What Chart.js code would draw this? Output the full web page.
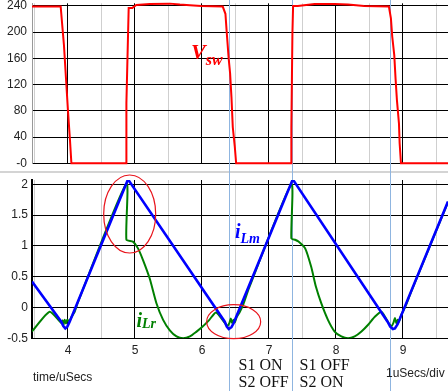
<!DOCTYPE html>
<html>
<head>
<meta charset="utf-8">
<script src="https://cdn.jsdelivr.net/npm/chart.js@4.4.1/dist/chart.umd.min.js"></script>
<style>
  html, body { margin: 0; padding: 0; background: #fff; }
  #wrap { position: relative; width: 448px; height: 391px; overflow: hidden; }
  #wrap canvas { position: absolute; left: 0; }
  #vswChart { top: 0; }
  #ilChart { top: 172px; }
  #sep { position: absolute; left: 0; top: 171px; width: 448px; height: 1.5px; background: #d4d4d4; }
  #labels { position: absolute; left: 0; top: 0; pointer-events: none; }
  .lbl { font-family: "Liberation Serif", "Times New Roman", serif; font-weight: bold; font-style: italic; }
  .sw { font-family: "Liberation Serif", "Times New Roman", serif; font-size: 16px; fill: #111; }
  .axt { font-family: "Liberation Sans", Arial, sans-serif; font-size: 12px; fill: #222; }
</style>
</head>
<body>
<div id="wrap">
  <div id="sep"></div>
  <canvas id="vswChart" width="448" height="172"></canvas>
  <canvas id="ilChart" width="448" height="219"></canvas>
  <svg id="labels" width="448" height="391">
    <text class="lbl" x="191" y="58.5" font-size="22" fill="#ff0000">V<tspan font-size="16" dy="6.5">sw</tspan></text>
    <text class="lbl" x="235" y="238.3" font-size="20" fill="#0000ff">i<tspan font-size="14" dy="5">Lm</tspan></text>
    <text class="lbl" x="136.5" y="326.7" font-size="20" fill="#008000">i<tspan font-size="14" dy="1.6">Lr</tspan></text>
    <text class="sw" x="238.5" y="370">S1 ON</text>
    <text class="sw" x="238.5" y="387">S2 OFF</text>
    <text class="sw" x="299.5" y="370">S1 OFF</text>
    <text class="sw" x="299.5" y="387">S2 ON</text>
    <text class="axt" x="33" y="380.5">time/uSecs</text>
    <text class="axt" x="386" y="377">1uSecs/div</text>
  </svg>
</div>
<script>
// switch node voltage (red, top panel)
const vswTime = [3.463, 3.891, 3.915, 3.94, 3.97, 4.0, 4.03, 4.051, 4.872, 4.872, 4.906, 4.96, 5.02, 5.22,
  5.52, 5.67, 5.82, 5.99, 6.31, 6.35, 6.37, 6.40, 6.42, 6.44, 6.46, 6.49, 6.51, 7.334, 7.334, 7.35, 7.36,
  7.43, 7.68, 7.98, 8.18, 8.42, 8.79, 8.82, 8.84, 8.87, 8.89, 8.91, 8.94, 8.95, 8.97, 9.672];
const vswVolts = [239, 239, 210, 180, 130, 80, 35, 0, 0, 92, 237, 237, 241.5, 243,
  243.5, 242, 241, 240, 239, 228, 199, 158, 137, 101, 55, 25, 0, 0, 55, 199, 240,
  240, 243, 243, 242, 240, 239, 221, 193, 165, 128, 96, 61, 31, 0, 0];

// magnetizing current (blue)
const ilmTime = [3.463, 3.90, 3.93, 3.96, 3.99, 4.025, 4.896, 6.34, 6.37, 6.40, 6.44, 6.47, 7.355,
  8.77, 8.81, 8.85, 8.88, 8.92, 9.672];
const ilmAmps = [0.42, -0.23, -0.30, -0.34, -0.31, -0.23, 2.08, -0.23, -0.31, -0.35, -0.32, -0.26, 2.08,
  -0.23, -0.31, -0.35, -0.34, -0.27, 1.72];

// resonant current (green)
const ilrTime = [3.463, 3.727, 3.90, 3.92, 3.935, 3.95, 3.97, 3.99, 4.02, 4.06, 4.10, 4.15, 4.872, 4.872,
  4.97, 5.045, 5.12, 5.22, 5.32, 5.42, 5.52, 5.62, 5.72, 5.82, 5.91, 6.01, 6.11, 6.21, 6.34, 6.38,
  6.41, 6.43, 6.45, 6.47, 6.49, 6.52, 6.56, 6.62, 6.70, 7.334, 7.334, 7.39, 7.44, 7.54, 7.63, 7.70,
  7.78, 7.88, 7.98, 8.08, 8.18, 8.28, 8.38, 8.48, 8.58, 8.68, 8.79, 8.83, 8.86, 8.88, 8.90, 8.92,
  8.94, 8.97, 9.01, 9.06, 9.12, 9.672];
const ilrAmps = [-0.39, -0.07, -0.25, -0.21, -0.28, -0.20, -0.26, -0.20, -0.22, -0.14, -0.07, 0.09, 2.01, 1.10,
  1.07, 0.96, 0.77, 0.47, 0.07, -0.20, -0.37, -0.47, -0.50, -0.47, -0.40, -0.31, -0.20, -0.08, -0.25, -0.30,
  -0.25, -0.18, -0.25, -0.20, -0.24, -0.15, -0.08, 0.06, 0.31, 2.00, 1.12, 1.10, 1.07, 0.96, 0.66, 0.34,
  0.07, -0.20, -0.39, -0.47, -0.50, -0.47, -0.39, -0.28, -0.15, -0.07, -0.26, -0.30, -0.24, -0.17, -0.25, -0.20,
  -0.23, -0.13, -0.04, 0.08, 0.25, 1.71];

// axes
const timeTicks = [3.5, 4, 4.5, 5, 5.5, 6, 6.5, 7, 7.5, 8, 8.5, 9, 9.5];
const vswTicks = [0, 20, 40, 60, 80, 100, 120, 140, 160, 180, 200, 220, 240];
const ilTicks = [-0.5, 0, 0.5, 1, 1.5, 2];
const switchTimes = [6.40, 7.34, 8.80];

const toPoints = (xs, ys) => xs.map((x, i) => ({ x: x, y: ys[i] }));

Chart.defaults.font.family = '"Liberation Sans", Arial, sans-serif';
Chart.defaults.font.size = 12;
Chart.defaults.color = '#222';

// thin blue lines marking the switching instants
const markerPlugin = {
  id: 'switchMarkers',
  beforeDatasetsDraw(chart) {
    const ctx = chart.ctx;
    const xs = chart.scales.x;
    ctx.save();
    ctx.strokeStyle = '#8fb5e0';
    ctx.lineWidth = 1;
    switchTimes.forEach(t => {
      const px = Math.round(xs.getPixelForValue(t)) + 0.5;
      ctx.beginPath();
      ctx.moveTo(px, 0);
      ctx.lineTo(px, chart.height);
      ctx.stroke();
    });
    ctx.restore();
  }
};

// red circles around the interesting spots
const circlePlugin = {
  id: 'circles',
  afterDatasetsDraw(chart) {
    const ctx = chart.ctx;
    const xs = chart.scales.x, ys = chart.scales.y;
    const marks = [
      { t: 4.921, v: 1.518, rx: 26, ry: 39 },
      { t: 6.473, v: -0.23, rx: 27, ry: 17 }
    ];
    ctx.save();
    ctx.strokeStyle = '#e8141c';
    ctx.lineWidth = 1.2;
    marks.forEach(m => {
      ctx.beginPath();
      ctx.ellipse(xs.getPixelForValue(m.t), ys.getPixelForValue(m.v), m.rx, m.ry, 0, 0, Math.PI * 2);
      ctx.stroke();
    });
    ctx.restore();
  }
};

function timeAxis(showLabels, height) {
  return {
    type: 'linear',
    min: 3.463,
    max: 9.672,
    afterBuildTicks: s => { s.ticks = timeTicks.map(v => ({ value: v })); },
    afterFit: s => { s.height = height; s.paddingLeft = 0; s.paddingRight = 0; },
    grid: {
      drawTicks: false,
      color: c => (c.tick && Number.isInteger(c.tick.value)) ? '#000' : '#cfcfcf',
      lineWidth: 1
    },
    border: { display: false },
    ticks: {
      display: showLabels,
      padding: 5,
      maxRotation: 0,
      callback: v => Number.isInteger(v) ? String(v) : ''
    }
  };
}

// top panel: Vsw
new Chart(document.getElementById('vswChart').getContext('2d'), {
  type: 'line',
  data: {
    datasets: [{
      label: 'Vsw',
      data: toPoints(vswTime, vswVolts),
      borderColor: '#ff0000',
      borderWidth: 2,
      pointRadius: 0,
      tension: 0,
      clip: false
    }]
  },
  options: {
    responsive: false,
    animation: false,
    layout: { padding: { top: 3.3, left: 0, right: 0, bottom: 0 } },
    plugins: { legend: { display: false }, tooltip: { enabled: false } },
    scales: {
      x: timeAxis(false, 8.7),
      y: {
        min: 0,
        max: 244,
        afterBuildTicks: s => { s.ticks = vswTicks.map(v => ({ value: v })); },
        afterFit: s => { s.width = 32; s.paddingTop = 0; s.paddingBottom = 0; },
        grid: { drawTicks: false, color: '#000', lineWidth: 1 },
        border: { display: true, color: '#999', width: 1 },
        ticks: {
          padding: 5,
          callback: v => v % 40 === 0 ? (v === 0 ? '-0' : String(v)) : ''
        }
      }
    }
  },
  plugins: [markerPlugin]
});

// bottom panel: iLm and iLr
new Chart(document.getElementById('ilChart').getContext('2d'), {
  type: 'line',
  data: {
    datasets: [{
      label: 'iLm',
      data: toPoints(ilmTime, ilmAmps),
      borderColor: '#0000ff',
      borderWidth: 2.6,
      pointRadius: 0,
      tension: 0
    }, {
      label: 'iLr',
      data: toPoints(ilrTime, ilrAmps),
      borderColor: '#008000',
      borderWidth: 2,
      pointRadius: 0,
      tension: 0.2
    }]
  },
  options: {
    responsive: false,
    animation: false,
    layout: { padding: { top: 8, left: 0, right: 0, bottom: 0 } },
    plugins: { legend: { display: false }, tooltip: { enabled: false } },
    scales: {
      x: timeAxis(true, 52.7),
      y: {
        min: -0.5,
        max: 2.07,
        afterBuildTicks: s => { s.ticks = ilTicks.map(v => ({ value: v })); },
        afterFit: s => { s.width = 32; s.paddingTop = 0; s.paddingBottom = 0; },
        grid: { drawTicks: false, color: '#000', lineWidth: 1 },
        border: { display: true, color: '#000', width: 2 },
        ticks: { padding: 4, callback: v => String(v) }
      }
    }
  },
  plugins: [markerPlugin, circlePlugin]
});
</script>
</body>
</html>
